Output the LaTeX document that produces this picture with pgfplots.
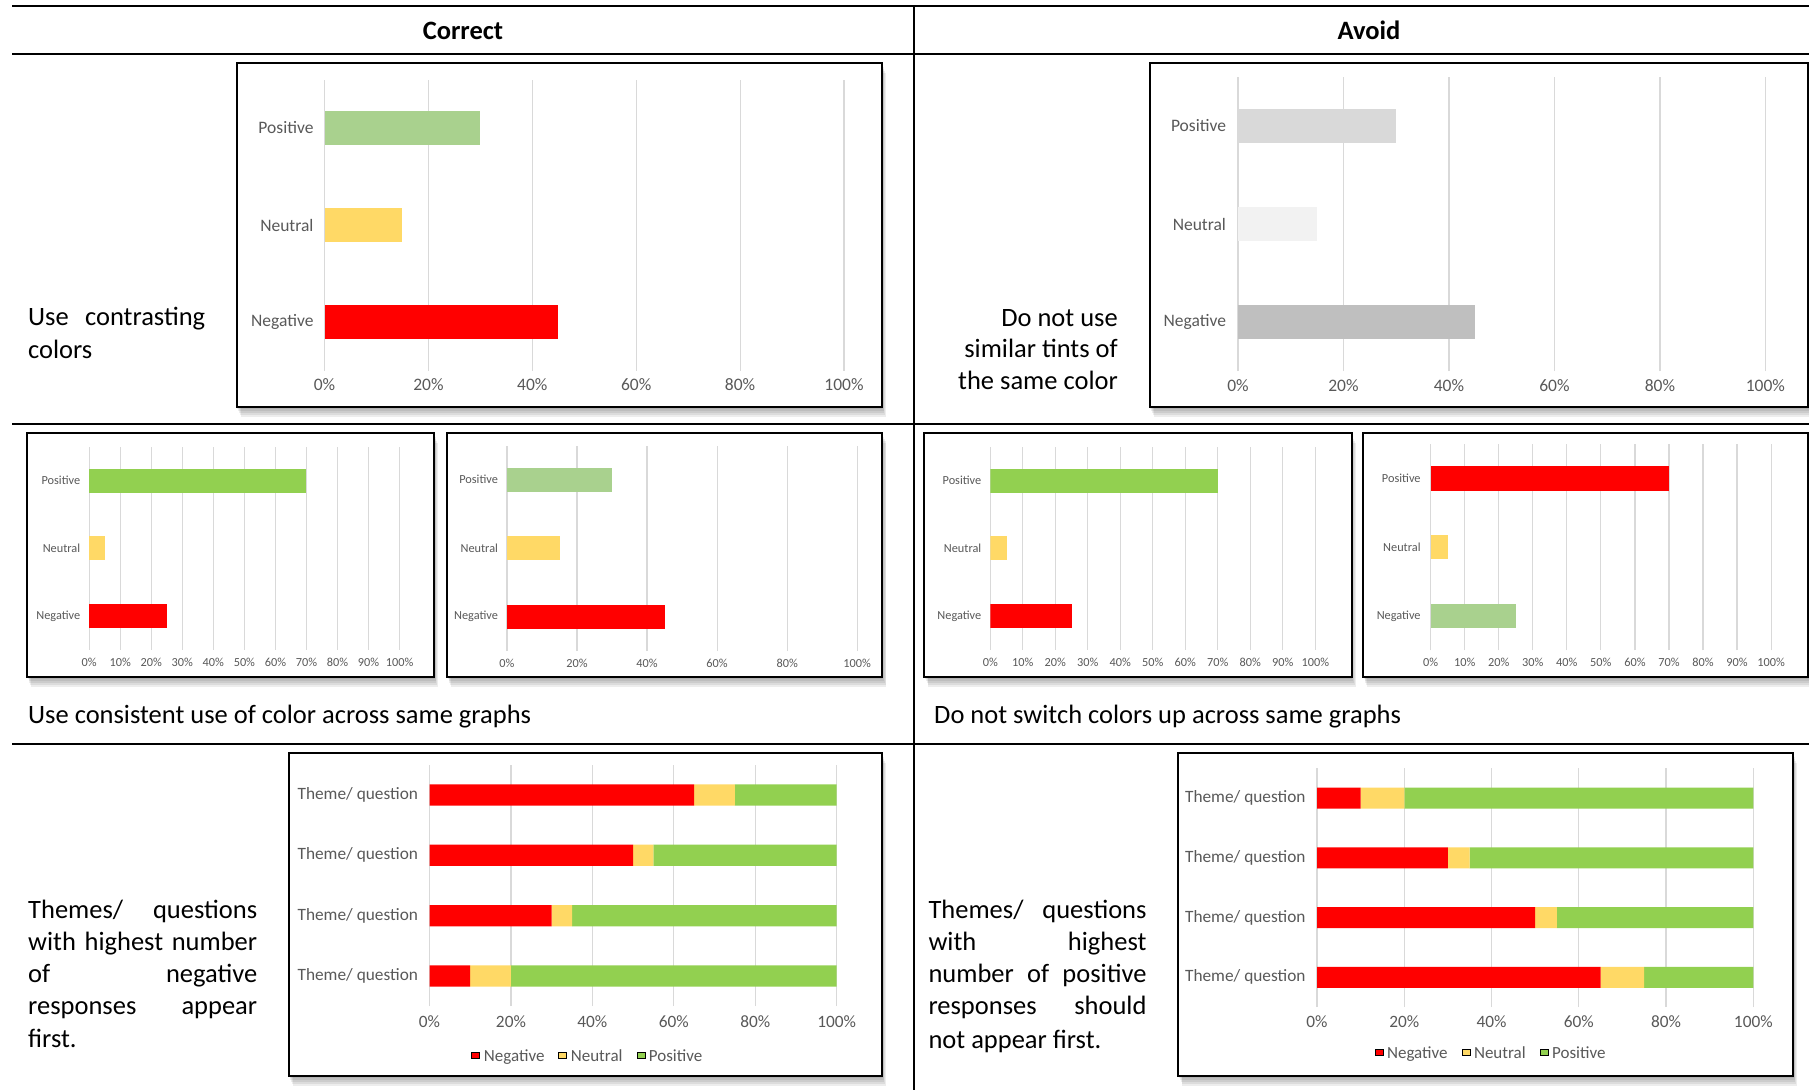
\documentclass[border=0pt]{standalone}
\usepackage{fontspec}
\setmainfont{Carlito}
\usepackage{pgfplots}
\pgfplotsset{compat=1.18}
\definecolor{cred}{HTML}{FF0000}
\definecolor{cyel}{HTML}{FFD966}
\definecolor{cgrn}{HTML}{92D050}
\definecolor{clgrn}{HTML}{A9D18E}
\definecolor{cgA}{HTML}{D9D9D9}
\definecolor{cgB}{HTML}{F2F2F2}
\definecolor{cgC}{HTML}{BFBFBF}
\definecolor{gridc}{HTML}{D9D9D9}
\definecolor{labc}{HTML}{595959}
\newcommand{\bigf}{\fontsize{26.5}{32}\selectfont}
\newcommand{\chartframe}[4]{%
  \foreach \d in {2,4,6,8,10}{
    \fill[black,opacity=0.07] (#1+\d*0.4,#2+\d) rectangle (#3+\d*0.4,#4+\d);
  }
  \fill[white] (#1,#2) rectangle (#3,#4);
  \draw[black,line width=2pt] (#1,#2) rectangle (#3,#4);
}
\pgfplotsset{
  hb/.style={
    scale only axis, anchor=south west, xmin=0, xmax=100, ymin=-0.5,
    separate axis lines, axis line style={draw=none},
    major tick length=0pt, tick style={draw=none},
    xmajorgrids, grid style={draw=gridc, line width=1.2pt},
    tick label style={text=labc},
    legend image code/.code={\fill[##1] (0pt,-6pt) rectangle (8pt,6pt);},
  },
  hb3/.style={hb, xbar, ymax=2.5, ytick={0,1,2},
    yticklabels={Negative,Neutral,Positive}},
  t20/.style={xtick={0,20,...,100}, xticklabels={0\%,20\%,40\%,60\%,80\%,100\%}},
  t10/.style={xtick={0,10,...,100}, xticklabels={0\%,10\%,20\%,30\%,40\%,50\%,60\%,70\%,80\%,90\%,100\%}},
  lgd/.style={legend style={draw=none, fill=none, legend columns=3, anchor=center,
    font=\fontsize{17}{20}\selectfont, text=labc,
    /tikz/every odd column/.append style={column sep=2pt},
    /tikz/every even column/.append style={column sep=12pt}}},
}
\begin{document}
\begin{tikzpicture}
\path[use as bounding box] (0pt,0pt) rectangle (1809pt,-1090pt);
\begin{scope}[x=1pt,y=-1pt]
\chartframe{236.5}{62.7}{882}{406.7}
\chartframe{1149.6}{63.3}{1808}{406.7}
\chartframe{27}{433}{434}{677}
\chartframe{447}{433}{882.4}{677}
\chartframe{924.3}{432.7}{1351.5}{677}
\chartframe{1362.9}{432.7}{1808}{677}
\chartframe{288.7}{752.7}{881.9}{1075.7}
\chartframe{1178.3}{752.7}{1792.9}{1075.7}
\end{scope}

% Row 1 left
\begin{axis}[hb3, t20, at={(324.5pt,-370.5pt)}, width=519.5pt, height=291pt, bar width=0.35,
  tick label style={font=\fontsize{17.5}{20}\selectfont},
  yticklabel style={xshift=-7.5pt}, xticklabel style={yshift=-5pt}]
\addplot[fill=cred, draw=none, bar shift=0pt] coordinates {(45,0)};
\addplot[fill=cyel, draw=none, bar shift=0pt] coordinates {(15,1)};
\addplot[fill=clgrn, draw=none, bar shift=0pt] coordinates {(30,2)};
\end{axis}
% Row 1 right
\begin{axis}[hb3, t20, at={(1238pt,-371pt)}, width=527.4pt, height=294pt, bar width=0.35,
  tick label style={font=\fontsize{17.5}{20}\selectfont},
  yticklabel style={xshift=-8.5pt}, xticklabel style={yshift=-5pt}]
\addplot[fill=cgC, draw=none, bar shift=0pt] coordinates {(45,0)};
\addplot[fill=cgB, draw=none, bar shift=0pt] coordinates {(15,1)};
\addplot[fill=cgA, draw=none, bar shift=0pt] coordinates {(30,2)};
\end{axis}
% Row 2 A
\begin{axis}[hb3, t10, at={(89.2pt,-649.8pt)}, width=310.4pt, height=203pt, bar width=0.355,
  tick label style={font=\fontsize{12.3}{14}\selectfont},
  yticklabel style={xshift=-5.5pt}, xticklabel style={yshift=-4.5pt}]
\addplot[fill=cred, draw=none, bar shift=0pt] coordinates {(25,0)};
\addplot[fill=cyel, draw=none, bar shift=0pt] coordinates {(5,1)};
\addplot[fill=cgrn, draw=none, bar shift=0pt] coordinates {(70,2)};
\end{axis}
% Row 2 B
\begin{axis}[hb3, t20, at={(507pt,-651pt)}, width=350.2pt, height=205.5pt, bar width=0.355,
  tick label style={font=\fontsize{12.3}{14}\selectfont},
  yticklabel style={xshift=-5.5pt}, xticklabel style={yshift=-4.5pt}]
\addplot[fill=cred, draw=none, bar shift=0pt] coordinates {(45,0)};
\addplot[fill=cyel, draw=none, bar shift=0pt] coordinates {(15,1)};
\addplot[fill=clgrn, draw=none, bar shift=0pt] coordinates {(30,2)};
\end{axis}
% Row 2 C
\begin{axis}[hb3, t10, at={(990.3pt,-649.8pt)}, width=325pt, height=203pt, bar width=0.355,
  tick label style={font=\fontsize{12.3}{14}\selectfont},
  yticklabel style={xshift=-5.5pt}, xticklabel style={yshift=-4.5pt}]
\addplot[fill=cred, draw=none, bar shift=0pt] coordinates {(25,0)};
\addplot[fill=cyel, draw=none, bar shift=0pt] coordinates {(5,1)};
\addplot[fill=cgrn, draw=none, bar shift=0pt] coordinates {(70,2)};
\end{axis}
% Row 2 D
\begin{axis}[hb3, t10, at={(1430.6pt,-650.4pt)}, width=340.5pt, height=206.3pt, bar width=0.355,
  tick label style={font=\fontsize{12.3}{14}\selectfont},
  yticklabel style={xshift=-6.5pt}, xticklabel style={yshift=-4.5pt}]
\addplot[fill=clgrn, draw=none, bar shift=0pt] coordinates {(25,0)};
\addplot[fill=cyel, draw=none, bar shift=0pt] coordinates {(5,1)};
\addplot[fill=cred, draw=none, bar shift=0pt] coordinates {(70,2)};
\end{axis}
% Row 3 left
\begin{axis}[hb, xbar stacked, t20, lgd, at={(429.5pt,-1006.2pt)}, width=407.2pt, height=241.4pt,
  ymax=3.5, bar width=0.353, ytick={0,1,2,3},
  yticklabels={Theme/ question,Theme/ question,Theme/ question,Theme/ question},
  tick label style={font=\fontsize{17.3}{20}\selectfont},
  yticklabel style={xshift=-8pt}, xticklabel style={yshift=-5.5pt},
  legend style={at={(0.389,-0.206)}}]
\addplot[fill=cred, draw=none] coordinates {(10,0) (30,1) (50,2) (65,3)};
\addplot[fill=cyel, draw=none] coordinates {(10,0) (5,1) (5,2) (10,3)};
\addplot[fill=cgrn, draw=none] coordinates {(80,0) (65,1) (45,2) (25,3)};
\legend{Negative,Neutral,Positive}
\end{axis}
% Row 3 right
\begin{axis}[hb, xbar stacked, t20, lgd, at={(1317pt,-1007.2pt)}, width=436.3pt, height=239pt,
  ymax=3.5, bar width=0.353, ytick={0,1,2,3},
  yticklabels={Theme/ question,Theme/ question,Theme/ question,Theme/ question},
  tick label style={font=\fontsize{17.3}{20}\selectfont},
  yticklabel style={xshift=-8pt}, xticklabel style={yshift=-4.5pt},
  legend style={at={(0.399,-0.193)}}]
\addplot[fill=cred, draw=none] coordinates {(65,0) (50,1) (30,2) (10,3)};
\addplot[fill=cyel, draw=none] coordinates {(10,0) (5,1) (5,2) (10,3)};
\addplot[fill=cgrn, draw=none] coordinates {(25,0) (45,1) (65,2) (80,3)};
\legend{Negative,Neutral,Positive}
\end{axis}

\begin{scope}[x=1pt,y=-1pt]
\foreach \yy in {6,54,424,744} \draw[line width=2.5pt] (12,\yy)--(1809,\yy);
\draw[line width=2.5pt] (914,6)--(914,1090);
\node[anchor=base, inner sep=0] at (463,39.5) {\bigf\bfseries Correct};
\node[anchor=base, inner sep=0] at (1369,39.5) {\bigf\bfseries Avoid};
% row 1
\node[anchor=base west, inner sep=0] at (28,325) {\bigf\makebox[177pt][s]{Use contrasting}};
\node[anchor=base west, inner sep=0] at (28,358) {\bigf colors};
\node[anchor=base east, inner sep=0] at (1118,326) {\bigf Do not use};
\node[anchor=base east, inner sep=0] at (1118,357.5) {\bigf similar tints of};
\node[anchor=base east, inner sep=0] at (1118,389) {\bigf the same color};
% row 2
\node[anchor=base west, inner sep=0] at (28,723) {\bigf Use consistent use of color across same graphs};
\node[anchor=base west, inner sep=0] at (934,723) {\bigf Do not switch colors up across same graphs};
% row 3 left
\node[anchor=base west, inner sep=0] at (28,918) {\bigf\makebox[229pt][s]{Themes/ questions}};
\node[anchor=base west, inner sep=0] at (28,950) {\bigf\makebox[229pt][s]{with highest number}};
\node[anchor=base west, inner sep=0] at (28,982) {\bigf\makebox[229pt][s]{of negative}};
\node[anchor=base west, inner sep=0] at (28,1014.5) {\bigf\makebox[229pt][s]{responses appear}};
\node[anchor=base west, inner sep=0] at (28,1047) {\bigf first.};
% row 3 right
\node[anchor=base west, inner sep=0] at (928.3,918) {\bigf\makebox[218pt][s]{Themes/ questions}};
\node[anchor=base west, inner sep=0] at (928.3,950) {\bigf\makebox[218pt][s]{with highest}};
\node[anchor=base west, inner sep=0] at (928.3,982) {\bigf\makebox[218pt][s]{number of positive}};
\node[anchor=base west, inner sep=0] at (928.3,1014.5) {\bigf\makebox[218pt][s]{responses should}};
\node[anchor=base west, inner sep=0] at (928.3,1048) {\bigf not appear first.};
\end{scope}
\end{tikzpicture}
\end{document}
